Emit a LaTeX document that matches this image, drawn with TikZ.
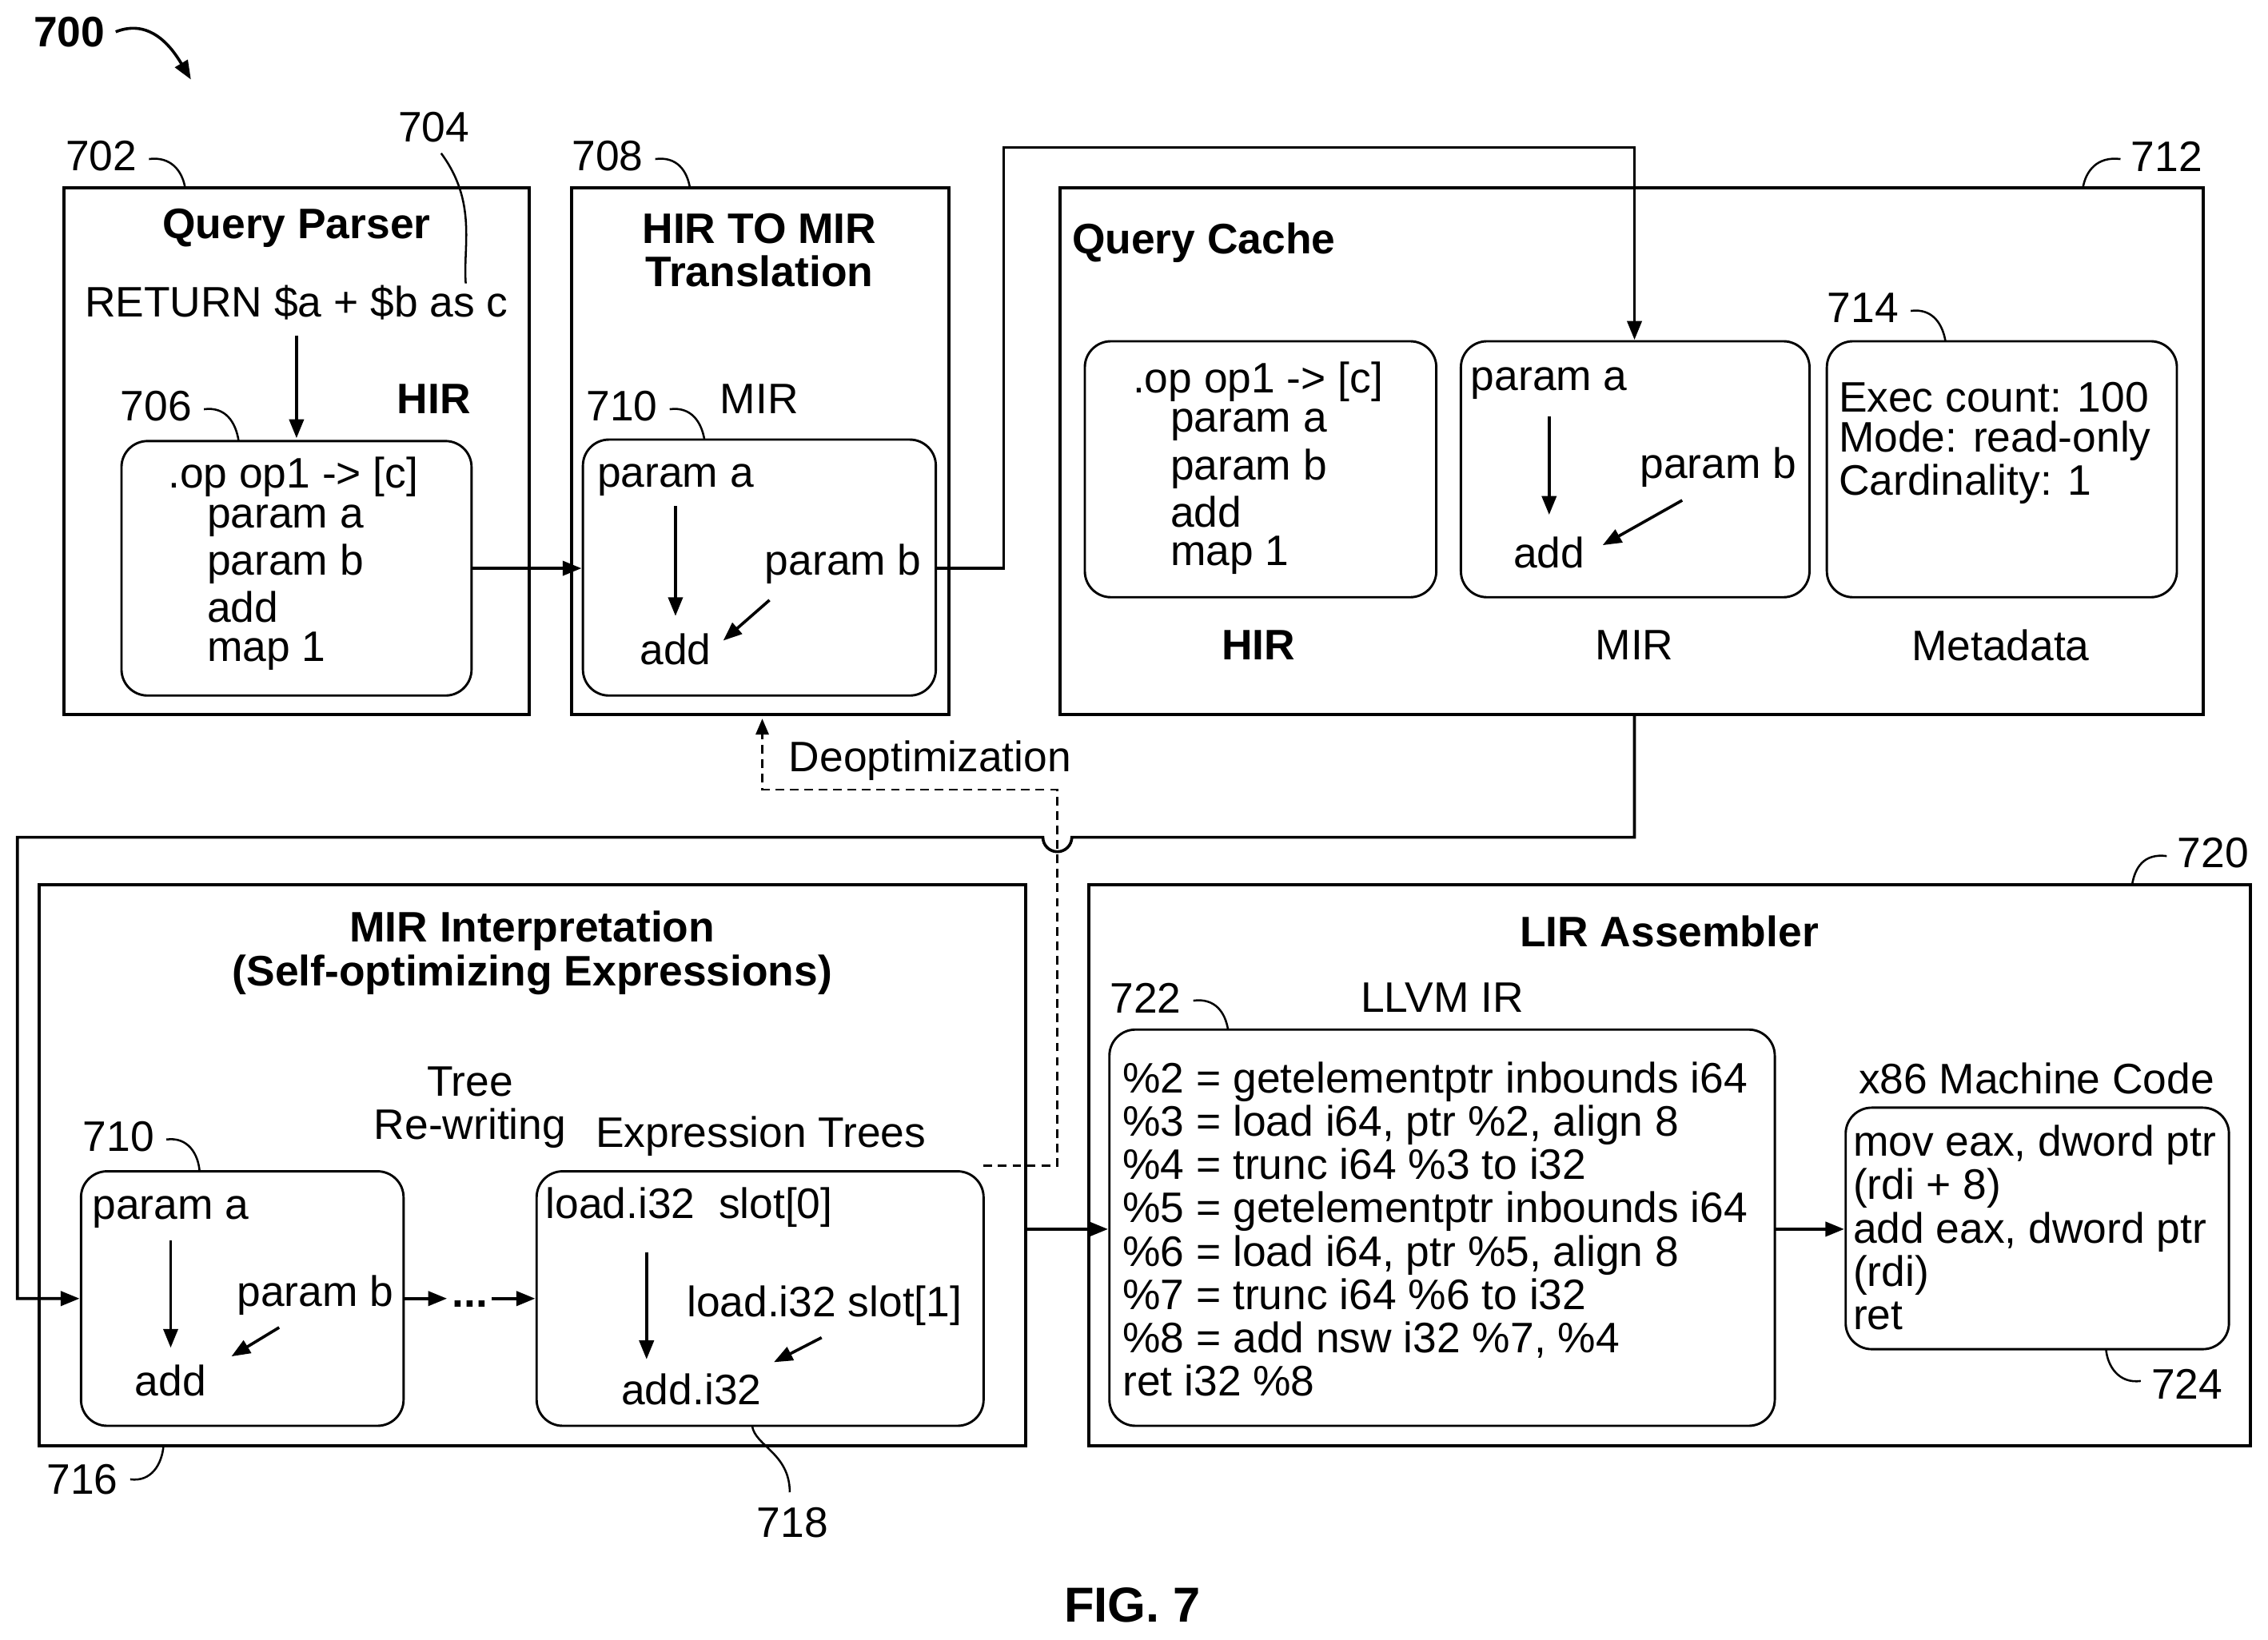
\documentclass[tikz,border=0pt]{standalone}
\usepackage{fontspec}
\setmainfont{Liberation Sans}
\usetikzlibrary{arrows.meta}
\begin{document}
\begin{tikzpicture}[x=1pt,y=-1pt,
  every node/.style={font=\fontsize{29.5}{30}\selectfont, inner sep=0pt},
  frame/.style={draw, line width=2.2pt},
  rbox/.style={draw, line width=1.6pt, rounded corners=18pt},
  arr/.style={line width=2pt, -{Triangle[length=13pt,width=10pt]}},
  lead/.style={line width=1.4pt},
  bold/.style={font=\fontsize{29.5}{30}\selectfont\bfseries}]
\useasboundingbox (0,0) rectangle (1568,1134);
% Query Parser
\draw[frame] (44,130) rectangle (366,494);
\node[bold] (qpt) at (205,158) {Query Parser};
\node (ret) at (205,209) {RETURN \$a + \$b as c};
\node[bold] at (300,276) {HIR};
\draw[rbox] (84,305) rectangle (326,481);
\node[anchor=west] at (116,330) {.op op1 -> [c]};
\node[anchor=west] at (143,360) {param a};
\node[anchor=west] at (143,390) {param b};
\node[anchor=west] at (143,420) {add};
\node[anchor=west] at (143,450) {map 1};
\coordinate (r1) at (205,232); \coordinate (r2) at (205,303);
\draw[arr] (r1) -- (r2);
% HIR to MIR
\draw[frame] (395,130) rectangle (656,494);
\node[bold, align=center] at (525,173) {HIR TO MIR\\Translation};
\node at (525,276) {MIR};
\draw[rbox] (403,304) rectangle (647,481);
\node (pa1) at (467,332) {param a};
\node (ad1) at (467,449) {add};
\node (pb1) at (583,390) {param b};
\draw[arr] (467,350) -- (467,426);
\draw[arr] (532,415) -- (500,443);
\draw[arr] (326,393) -- (402,393);
\draw[arr] (647,393) -- (694,393) -- (694,102) -- (1130,102) -- (1130,235);
% Query cache
\draw[frame] (733,130) rectangle (1523,494);
\node[bold,anchor=west] at (741,168) {Query Cache};
\draw[rbox] (750,236) rectangle (993,413);
\node[anchor=west] at (783,264) {.op op1 -> [c]};
\node[anchor=west] at (809,294) {param a};
\node[anchor=west] at (809,324) {param b};
\node[anchor=west] at (809,354) {add};
\node[anchor=west] at (809,384) {map 1};
\node[bold] at (870,446) {HIR};
\node at (1130,446) {MIR};
\node at (1383,446) {Metadata};
\draw[rbox] (1010,236) rectangle (1251,413);
\node at (1071,265) {param a};
\node at (1188,323) {param b};
\node at (1071,382) {add};
\draw[arr] (1071,288) -- (1071,356);
\draw[arr] (1163,346) -- (1108,377);
\draw[rbox] (1263,236) rectangle (1505,413);
\node[anchor=west] at (1271,275) {Exec count: 100};
\node[anchor=west] at (1271,305) {Mode: read-only};
\node[anchor=west] at (1271,335) {Cardinality: 1};
% connector with hop
\draw[arr] (1130,494) -- (1130,579) -- (741,579) arc[start angle=0,end angle=180,radius=10] -- (12,579) -- (12,898) -- (55,898);
% deopt
\draw[line width=1.4pt, dash pattern=on 6pt off 4pt, -{Triangle[length=11pt,width=9pt]}] (680,806) -- (731,806) -- (731,546) -- (527,546) -- (527,497);
\node at (643,526) {Deoptimization};
% MIR interpretation
\draw[frame] (27,612) rectangle (709,1000);
\node[bold, align=center] at (368,659) {MIR Interpretation\\(Self-optimizing Expressions)};
\draw[rbox] (56,810) rectangle (279,986);
\node at (118,838) {param a};
\node at (218,896) {param b};
\node at (118,955) {add};
\draw[arr] (118,858) -- (118,932);
\draw[arr] (193,918) -- (160,938);
\node[align=center] at (325,766) {Tree\\Re-writing};
\node at (526,786) {Expression Trees};
\draw[rbox] (371,810) rectangle (680,986);
\node[anchor=west] at (377,835) {load.i32\ \ slot[0]};
\node at (570,903) {load.i32 slot[1]};
\node at (478,961) {add.i32};
\draw[arr] (447,866) -- (447,940);
\draw[arr] (568,925) -- (535,942);
\draw[arr] (279,898) -- (309,898);
\node[bold] at (325,902) {...};
\draw[arr] (340,898) -- (370,898);
\draw[arr] (709,850) -- (766,850);
% LIR
\draw[frame] (753,612) rectangle (1556,1000);
\node[bold] at (1154,644) {LIR Assembler};
\node at (997,690) {LLVM IR};
\draw[rbox] (767,712) rectangle (1227,986);
\node[anchor=west,align=left] at (776,850) {\%2 = getelementptr inbounds i64\\\%3 = load i64, ptr \%2, align 8\\\%4 = trunc i64 \%3 to i32\\\%5 = getelementptr inbounds i64\\\%6 = load i64, ptr \%5, align 8\\\%7 = trunc i64 \%6 to i32\\\%8 = add nsw i32 \%7, \%4\\ret i32 \%8};
\node at (1408,746) {x86 Machine Code};
\draw[rbox] (1276,766) rectangle (1541,933);
\node[anchor=west,align=left] at (1281,849) {mov eax, dword ptr\\(rdi + 8)\\add eax, dword ptr\\(rdi)\\ret};
\draw[arr] (1227,850) -- (1275,850);
% reference labels
\node[bold] at (48,22) {700};
\draw[line width=2pt,-{Triangle[length=13pt,width=10pt]}] (80,22) .. controls (105,12) and (120,35) .. (132,55);
\node at (70,108) {702}; \draw[lead] (103,110) .. controls (118,108) and (126,118) .. (128,130);
\node at (300,88) {704}; \draw[lead] (305,106) .. controls (330,140) and (320,170) .. (322,196);
\node at (108,281) {706}; \draw[lead] (141,283) .. controls (156,281) and (163,292) .. (165,305);
\node at (420,108) {708}; \draw[lead] (453,110) .. controls (468,108) and (475,118) .. (477,130);
\node at (430,281) {710}; \draw[lead] (463,283) .. controls (478,281) and (485,292) .. (487,304);
\node at (1498,108) {712}; \draw[lead] (1466,110) .. controls (1450,108) and (1442,118) .. (1440,130);
\node at (1288,213) {714}; \draw[lead] (1321,215) .. controls (1336,213) and (1343,224) .. (1345,236);
\node at (82,786) {710}; \draw[lead] (115,788) .. controls (130,786) and (137,798) .. (138,810);
\node at (57,1023) {716}; \draw[lead] (90,1023) .. controls (105,1025) and (112,1012) .. (113,1000);
\node at (548,1053) {718}; \draw[lead] (546,1032) .. controls (546,1005) and (522,1000) .. (520,986);
\node at (1530,590) {720}; \draw[lead] (1498,592) .. controls (1482,590) and (1476,600) .. (1474,612);
\node at (792,690) {722}; \draw[lead] (825,692) .. controls (840,690) and (847,700) .. (849,712);
\node at (1512,957) {724}; \draw[lead] (1480,955) .. controls (1465,957) and (1457,945) .. (1456,933);
\node[font=\fontsize{34}{36}\selectfont\bfseries] at (783,1110) {FIG. 7};
\end{tikzpicture}
\end{document}
